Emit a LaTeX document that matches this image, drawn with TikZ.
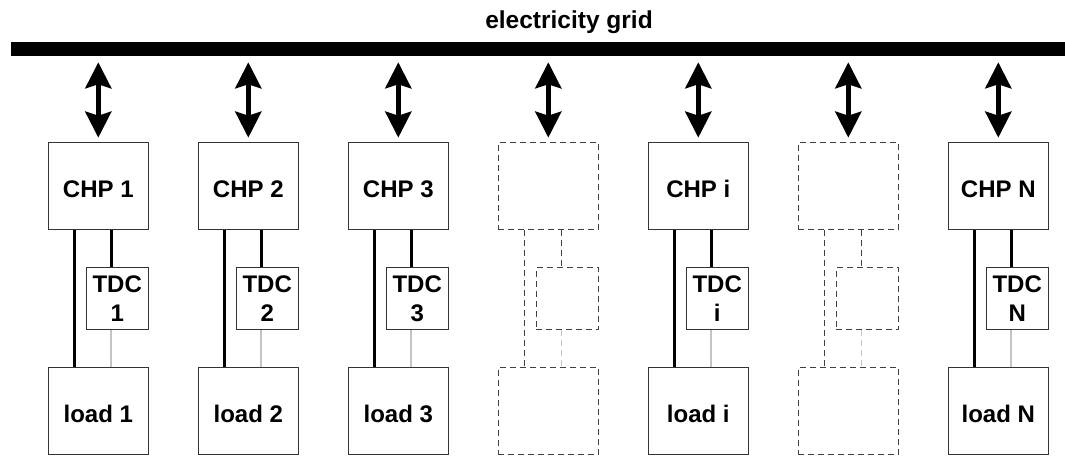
\documentclass[tikz,border=0pt]{standalone}
\usepackage{fontspec}
\setmainfont{Liberation Sans}
\usetikzlibrary{arrows.meta}
\definecolor{boxline}{HTML}{333333}
\definecolor{lightline}{HTML}{C4C4C4}
\definecolor{dashline}{HTML}{404040}
\tikzset{
  txt/.style={font=\bfseries\fontsize{24}{29}\selectfont},
  bigbox/.style={draw=boxline,line width=1pt,minimum width=100pt,minimum height=87.3pt,inner sep=0pt,txt,text height=22pt,text depth=0pt},
  tdcbox/.style={draw=boxline,line width=1pt,minimum width=62.3pt,minimum height=62.3pt,inner sep=0pt,txt,align=center},
  ghost/.style={draw=dashline,dash pattern=on 6pt off 4pt},
  thickline/.style={line width=3pt,black},
  grayline/.style={line width=2.7pt,lightline},
  ghostline/.style={line width=1pt,dashline,dash pattern=on 6pt off 4pt},
  ghostgray/.style={line width=1pt,lightline,dash pattern=on 6pt off 4pt},
  bigtip/.tip={Stealth[length=26pt,width=26pt,inset=4pt]},
  gridarrow/.style={line width=4.7pt,black,bigtip-bigtip,shorten <=6.6pt,shorten >=4.5pt}
}
\begin{document}
\begin{tikzpicture}[x=1pt,y=-1pt]
\useasboundingbox (0,0) rectangle (1065,456);
\node[font=\bfseries\fontsize{24.5}{29}\selectfont,anchor=base] (title) at (569,28.5) {electricity grid};
\node[fill=black,inner sep=0pt,outer sep=0pt,minimum width=1060pt,minimum height=13.4pt,anchor=north west] (grid) at (10.7,42.3) {};
\foreach \k/\lab in {1/1,2/2,3/3,5/i,7/N}{
  \pgfmathsetmacro\cx{98.3+150*(\k-1)}
  \node[bigbox] (chp\k) at (\cx,186.3) {CHP \lab};
  \node[tdcbox] (tdc\k) at (\cx+18.9,298.8) {TDC\\\lab};
  \node[bigbox] (load\k) at (\cx,411.3) {load \lab};
  \draw[thickline] ([xshift=-24.3pt]chp\k.south) -- ([xshift=-24.3pt]load\k.north);
  \draw[thickline] ([xshift=12.7pt]chp\k.south) -- ([xshift=-6.2pt]tdc\k.north);
  \draw[grayline] ([xshift=-6.2pt]tdc\k.south) -- ([xshift=12.7pt]load\k.north);
}
\foreach \k in {4,6}{
  \pgfmathsetmacro\cx{98.3+150*(\k-1)}
  \node[bigbox,ghost] (chp\k) at (\cx,186.3) {};
  \node[tdcbox,ghost] (tdc\k) at (\cx+18.9,298.8) {};
  \node[bigbox,ghost] (load\k) at (\cx,411.3) {};
  \draw[ghostline] ([xshift=-24.3pt]chp\k.south) -- ([xshift=-24.3pt]load\k.north);
  \draw[ghostline] ([xshift=12.7pt]chp\k.south) -- ([xshift=-6.2pt]tdc\k.north);
  \draw[ghostgray] ([xshift=-6.2pt]tdc\k.south) -- ([xshift=12.7pt]load\k.north);
}
\foreach \k in {1,...,7}
  \draw[gridarrow] (grid.south -| chp\k.north) -- (chp\k.north);
\end{tikzpicture}
\end{document}
